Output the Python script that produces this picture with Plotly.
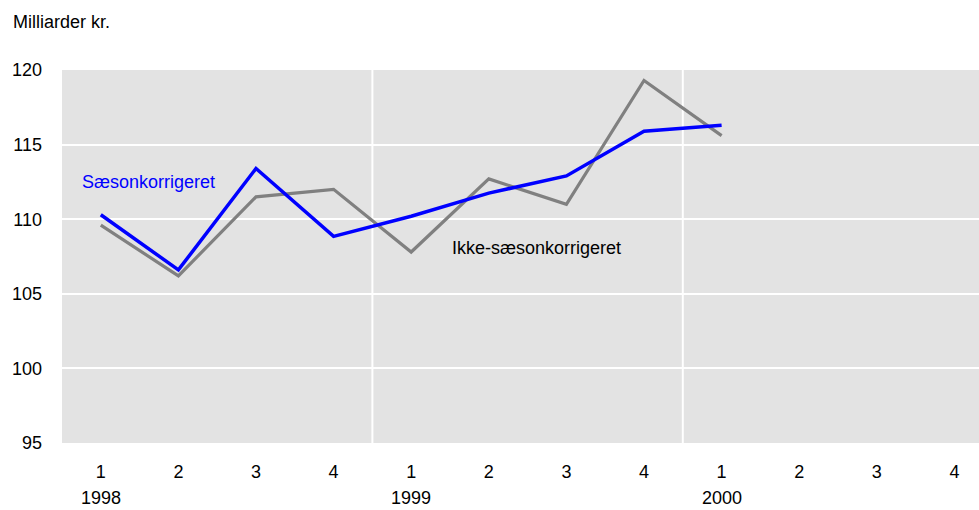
import plotly.graph_objects as go

quarters = ["1", "2", "3", "4", "1", "2", "3", "4", "1", "2", "3", "4"]
years = ["1998", "1999", "2000"]
saeson = [110.3, 106.6, 113.4, 108.85, 110.2, 111.75, 112.9, 115.9, 116.3]
ikke_saeson = [109.6, 106.2, 111.5, 112.0, 107.8, 112.7, 111.0, 119.3, 115.6]

W, H = 979, 510
L, R, T, B = 62, 0, 70, 67
pw, ph = W - L - R, H - T - B
FONT = "Liberation Sans, Arial, sans-serif"
FS = 18

def px_x(p):
    return (p - L) / pw

def px_y(p):
    return (H - B - p) / ph

xs = list(range(len(quarters)))

fig = go.Figure()
fig.add_trace(go.Scatter(x=xs[:len(ikke_saeson)], y=ikke_saeson, mode="lines",
                         line=dict(color="#808080", width=3.2), hoverinfo="skip"))
fig.add_trace(go.Scatter(x=xs[:len(saeson)], y=saeson, mode="lines",
                         line=dict(color="#0000ff", width=3.5), hoverinfo="skip"))

step = 77.6
fig.update_layout(
    width=W, height=H,
    margin=dict(l=L, r=R, t=T, b=B),
    paper_bgcolor="white", plot_bgcolor="#e3e3e3",
    showlegend=False,
    font=dict(family=FONT, size=FS, color="#000"),
    xaxis=dict(range=[-0.5, -0.5 + pw / step], tickvals=xs, ticktext=quarters,
               showgrid=False, zeroline=False, showline=False, ticks="",
               ticklabelstandoff=16, fixedrange=True),
    yaxis=dict(range=[95, 120], tickvals=[95, 100, 105, 110, 115, 120],
               showgrid=True, gridcolor="white", gridwidth=2, zeroline=False,
               showline=False, ticks="", ticklabelstandoff=19, fixedrange=True),
)

for xv in [3.5, 7.5]:
    fig.add_shape(type="line", xref="x", yref="paper", x0=xv, x1=xv, y0=0, y1=1,
                  line=dict(color="white", width=2), layer="below")

for i, yr in enumerate(years):
    fig.add_annotation(x=xs[i * 4], y=px_y(498), xref="x", yref="paper",
                       text=yr, showarrow=False, xanchor="center", yanchor="middle",
                       font=dict(size=FS))

fig.add_annotation(x=px_x(11), y=px_y(22), xref="paper", yref="paper",
                   text="Milliarder kr.", showarrow=False, xanchor="left",
                   yanchor="middle", font=dict(size=FS))
fig.add_annotation(x=px_x(80), y=px_y(182), xref="paper", yref="paper",
                   text="Sæsonkorrigeret", showarrow=False, xanchor="left",
                   yanchor="middle", font=dict(size=FS, color="#0000ff"))
fig.add_annotation(x=px_x(450), y=px_y(248), xref="paper", yref="paper",
                   text="Ikke-sæsonkorrigeret", showarrow=False, xanchor="left",
                   yanchor="middle", font=dict(size=FS, color="#000"))

fig.write_html("out.html", config={"displayModeBar": False},
               post_script="document.body.style.margin='0';document.body.style.overflow='hidden';")
